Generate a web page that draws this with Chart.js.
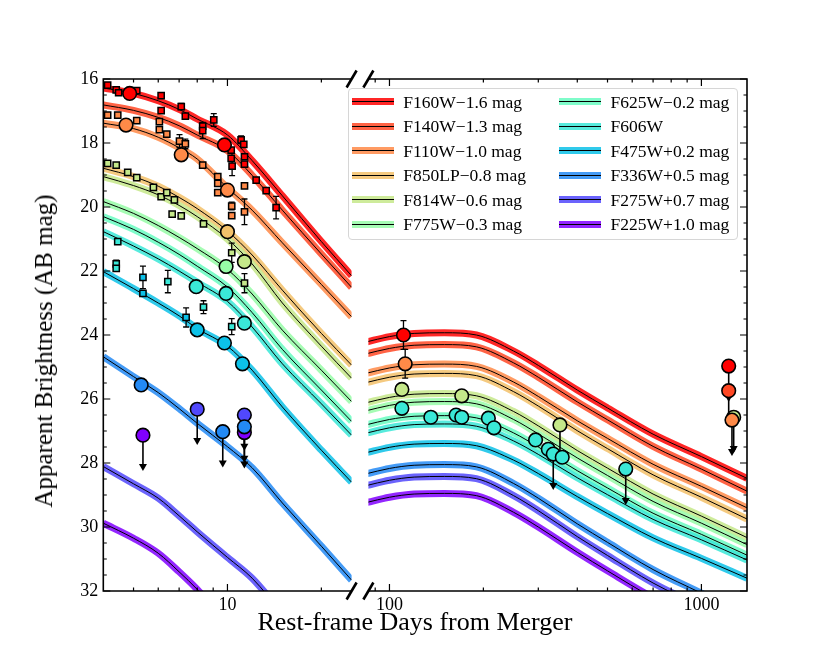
<!DOCTYPE html>
<html>
<head>
<meta charset="utf-8">
<script src="https://cdn.jsdelivr.net/npm/chart.js@4.4.1/dist/chart.umd.min.js"></script>
<style>
  body { margin: 0; background: #fff; }
  #wrap { position: relative; width: 830px; height: 664px; font-family: "Liberation Serif", "DejaVu Serif", serif; color: #000; }
  #cl { position: absolute; left: 0; top: 0; }
  #cr { position: absolute; left: 360px; top: 0; }
  #ylab { position: absolute; left: 44px; top: 351px; transform: translate(-50%, -50%) rotate(-90deg);
          font-size: 25px; line-height: 26px; white-space: nowrap; }
  #xlab { position: absolute; left: 0; width: 830px; top: 609px; text-align: center; font-size: 26px; line-height: 26px; }
  #legend { position: absolute; left: 348px; top: 88px; width: 390px; height: 152px; box-sizing: border-box;
            border: 1px solid #d6d6d6; border-radius: 4px; background: rgba(255,255,255,0.8); }
  .item { position: absolute; height: 20px; width: 180px; font-size: 17.5px; line-height: 20px; white-space: nowrap; }
  .sw { position: absolute; left: 0; top: 6.5px; width: 42px; height: 7px; }
  .sw i { position: absolute; left: 0; right: 0; top: 3px; height: 1px; background: #000; }
  .item span { position: absolute; left: 51.6px; top: 0; }
</style>
</head>
<body>
<div id="wrap">
  <canvas id="cl" width="360" height="664"></canvas>
  <canvas id="cr" width="470" height="664"></canvas>
  <div id="ylab">Apparent Brightness (AB mag)</div>
  <div id="xlab">Rest-frame Days from Merger</div>
  <div id="legend"></div>
</div>
<script>
// filters, legend order (red -> violet)
const bandLabels = ['F160W−1.6 mag', 'F140W−1.3 mag', 'F110W−1.0 mag', 'F850LP−0.8 mag', 'F814W−0.6 mag', 'F775W−0.3 mag',
                    'F625W−0.2 mag', 'F606W', 'F475W+0.2 mag', 'F336W+0.5 mag', 'F275W+0.7 mag', 'F225W+1.0 mag'];
const bandColors = ['255,0,0', '255,72,36', '255,138,72', '243,193,106', '197,232,138', '151,252,167',
                    '104,252,193', '58,232,215', '12,193,232', '35,138,245', '81,72,252', '128,0,255'];

// tick values
const yMajor = [16, 18, 20, 22, 24, 26, 28, 30, 32];
const leftMajor = [10];
const leftMinor = [5, 6, 7, 8, 9, 20];
const rightMajor = [100, 1000];
const rightMinor = [90, 200, 300, 400, 500, 600, 700, 800, 900];

// model curves, early (kilonova) panel
const leftDays = [4, 5, 6, 7, 8, 10, 12, 15, 20, 25];
const lF160 = [16.28, 16.45, 16.68, 16.95, 17.25, 17.75, 18.55, 19.65, 21.08, 22.15];
const lF140 = [16.81, 16.98, 17.2, 17.46, 17.75, 18.24, 19.01, 20.1, 21.47, 22.51];
const lF110 = [17.38, 17.55, 17.82, 18.15, 18.5, 19.4, 20.1, 21.12, 22.42, 23.43];
const lF850 = [18.79, 19.05, 19.35, 19.7, 20.05, 20.75, 21.5, 22.6, 23.95, 24.94];
const lF814 = [19.05, 19.33, 19.62, 19.95, 20.3, 21.0, 21.78, 23.0, 24.35, 25.35];
const lF775 = [19.83, 20.2, 20.58, 20.95, 21.3, 21.95, 22.72, 23.85, 25.1, 26.08];
const lF625 = [20.3, 20.7, 21.1, 21.48, 21.85, 22.5, 23.3, 24.45, 25.72, 26.7];
const lF606 = [20.77, 21.22, 21.62, 22.0, 22.35, 22.95, 23.75, 24.9, 26.15, 27.13];
const lF475 = [22.02, 22.55, 23.0, 23.4, 23.8, 24.35, 25.1, 26.25, 27.6, 28.6];
const lF336 = [24.68, 25.3, 25.8, 26.3, 26.76, 27.49, 28.15, 29.25, 30.6, 31.66];
const lF275 = [28.11, 28.65, 29.1, 29.65, 30.15, 30.95, 31.6, 32.7, null, null];
const lF225 = [29.88, 30.35, 30.82, 31.4, 31.95, 33.0, null, null, null, null];

// model curves, late (afterglow) panel
const rightDays = [84, 100, 120, 150, 190, 250, 300, 400, 500, 700, 1000, 1400];
const rF160 = [24.22, 24.05, 23.95, 23.93, 24.0, 24.5, 24.95, 25.72, 26.28, 27.1, 27.8, 28.48];
const rF140 = [24.59, 24.42, 24.32, 24.3, 24.37, 24.87, 25.32, 26.09, 26.65, 27.48, 28.19, 28.88];
const rF110 = [25.2, 25.03, 24.93, 24.91, 24.98, 25.47, 25.92, 26.68, 27.23, 28.04, 28.73, 29.4];
const rF850 = [25.49, 25.32, 25.22, 25.2, 25.27, 25.77, 26.22, 26.99, 27.55, 28.37, 29.07, 29.75];
const rF814 = [26.12, 25.95, 25.85, 25.83, 25.9, 26.39, 26.84, 27.61, 28.16, 28.97, 29.66, 30.33];
const rF775 = [26.37, 26.2, 26.1, 26.08, 26.15, 26.64, 27.09, 27.84, 28.39, 29.2, 29.88, 30.55];
const rF625 = [26.81, 26.64, 26.54, 26.52, 26.59, 27.06, 27.5, 28.24, 28.78, 29.57, 30.23, 30.88];
const rF606 = [27.07, 26.9, 26.8, 26.78, 26.85, 27.31, 27.73, 28.46, 28.99, 29.76, 30.4, 31.03];
const rF475 = [27.68, 27.51, 27.41, 27.39, 27.46, 27.91, 28.33, 29.05, 29.58, 30.34, 30.98, 31.6];
const rF336 = [28.34, 28.17, 28.07, 28.05, 28.12, 28.64, 29.1, 29.9, 30.48, 31.33, 32.07, 32.78];
const rF275 = [28.71, 28.54, 28.44, 28.42, 28.49, 29.02, 29.49, 30.3, 30.89, 31.75, 32.5, 33.23];
const rF225 = [29.24, 29.07, 28.97, 28.95, 29.02, 29.54, 30.0, 30.79, 31.37, 32.21, 32.93, 33.63];

// squares: [day, mag, error]
const sqL160 = [[4.13, 16.19, 0], [4.40, 16.34, 0], [4.48, 16.43, 0], [5.12, 16.36, 0], [6.13, 16.52, 0], [6.13, 16.99, 0],
                [7.11, 16.86, 0.1], [7.33, 17.16, 0], [8.33, 17.47, 0], [8.33, 17.61, 0.25], [9.04, 17.28, 0.2],
                [10.28, 18.22, 0], [10.28, 18.48, 0], [10.35, 18.72, 0.3], [11.06, 17.9, 0.12], [11.28, 18.04, 0],
                [11.34, 18.43, 0], [11.34, 18.66, 0], [12.36, 19.16, 0], [13.31, 19.49, 0], [14.32, 20.02, 0.35]];
const sqL110 = [[4.13, 17.13, 0], [4.45, 17.13, 0], [5.12, 17.3, 0], [6.05, 17.33, 0], [6.05, 17.58, 0], [6.39, 17.72, 0],
                [7.02, 17.94, 0.2], [7.33, 18.03, 0.15], [8.33, 18.69, 0], [9.31, 19.05, 0], [9.31, 19.26, 0],
                [9.31, 19.55, 0], [10.32, 19.97, 0.12], [10.32, 20.27, 0], [11.34, 19.34, 0], [11.34, 20.15, 0.4]];
const sqL814 = [[4.13, 18.64, 0], [4.40, 18.69, 0], [4.79, 18.92, 0], [5.12, 19.08, 0], [5.79, 19.39, 0], [6.13, 19.68, 0],
                [6.39, 19.55, 0], [6.76, 19.78, 0], [6.65, 20.22, 0], [7.11, 20.28, 0], [8.38, 20.53, 0],
                [10.32, 21.43, 0.3], [11.34, 22.38, 0.3]];
const sqL606 = [[4.45, 21.08, 0], [4.40, 21.78, 0.12], [4.40, 21.92, 0], [6.44, 22.33, 0.35], [8.38, 23.13, 0.2], [10.32, 23.74, 0.25]];
const sqL475 = [[5.36, 22.2, 0.35], [5.36, 22.7, 0], [7.37, 23.45, 0.3]];

// circles: [day, mag]
const cL160 = [[4.86, 16.45], [9.78, 18.06]];
const cL110 = [[4.73, 17.44], [7.11, 18.37], [10.0, 19.47]];
const cL850 = [[10.0, 20.77]];
const cL814 = [[11.33, 21.71]];
const cL775 = [[9.9, 21.86]];
const cL606 = [[7.94, 22.49], [9.9, 22.7], [11.33, 23.63]];
const cL475 = [[8.0, 23.84], [9.78, 24.25], [11.17, 24.9]];
const cL336 = [[5.29, 25.56], [9.66, 27.02], [11.33, 26.87]];
const cL275 = [[8.0, 26.32], [11.33, 26.5]];
const cL225 = [[5.36, 27.13], [11.33, 27.05]];
const limL = [[9.66, 27.02], [11.33, 26.87], [8.0, 26.32], [11.33, 26.5], [5.36, 27.13], [11.33, 27.05]];

const cR160 = [[110.9, 24.0], [1223, 24.97]];
const cR140 = [[1223, 25.74]];
const cR110 = [[112.3, 24.9], [1253, 26.66]];
const cR814 = [[109.6, 25.7], [170.5, 25.9], [352, 26.81], [1269, 26.57]];
const cR606 = [[109.6, 26.29], [135.7, 26.57], [163.5, 26.5], [170.5, 26.57], [207.5, 26.6], [216.3, 26.9],
               [294, 27.28], [323, 27.57], [335, 27.72], [358, 27.82], [572, 28.19]];
const limR = [[352, 26.81], [335, 27.72], [572, 28.19], [1223, 24.97], [1223, 25.74], [1269, 26.57], [1253, 26.66]];
const errR = [[110.9, 24.0, 0.45], [112.3, 24.9, 0.45]];

const SERIF = '"Liberation Serif", "DejaVu Serif", serif';
const rgba = (k, a) => `rgba(${bandColors[k]},${a})`;
const pts = arr => arr.map(p => ({ x: p[0], y: p[1] }));

function curveSets(days, models) {
  const out = [];
  models.forEach((m, k) => {
    const data = days.map((d, i) => ({ x: d, y: m[i] }));
    const common = { data, pointRadius: 0, fill: false, clip: 0, cubicInterpolationMode: 'monotone', borderCapStyle: 'butt' };
    out.push({ ...common, borderColor: rgba(k, 0.85), borderWidth: 7, order: 100 - 2 * k });
    out.push({ ...common, borderColor: '#000', borderWidth: 1, order: 99 - 2 * k });
  });
  return out;
}
function dots(arr, k, shape, order) {
  const sq = shape === 'rect';
  return { data: pts(arr), showLine: false, pointStyle: shape, pointRadius: sq ? 4.4 : 6.8,
           pointBackgroundColor: rgba(k, 1), pointBorderColor: '#000', pointBorderWidth: sq ? 1.5 : 1.6, order };
}

// spines, inward ticks, break marks
const frame = {
  id: 'frame',
  afterDraw(chart, args, o) {
    const { ctx, chartArea: a } = chart;
    const x = chart.scales.x, y = chart.scales.y;
    ctx.save();
    ctx.strokeStyle = '#000';
    ctx.lineWidth = 1.2;
    ctx.beginPath();
    const xt = (vals, len) => vals.forEach(v => {
      const p = x.getPixelForValue(v);
      ctx.moveTo(p, a.bottom); ctx.lineTo(p, a.bottom - len);
      ctx.moveTo(p, a.top); ctx.lineTo(p, a.top + len);
    });
    xt(o.major, 7);
    xt(o.minor, 3.5);
    for (let m = 16; m <= 32; m += 0.5) {
      const p = y.getPixelForValue(m);
      const len = yMajor.includes(m) ? 7 : 3.5;
      if (o.left) { ctx.moveTo(a.left, p); ctx.lineTo(a.left + len, p); }
      if (o.right) { ctx.moveTo(a.right, p); ctx.lineTo(a.right - len, p); }
    }
    ctx.stroke();
    ctx.lineWidth = 1.6;
    ctx.beginPath();
    ctx.moveTo(a.left, a.top); ctx.lineTo(a.right, a.top);
    ctx.moveTo(a.left, a.bottom); ctx.lineTo(a.right, a.bottom);
    if (o.left) { ctx.moveTo(a.left, a.top - 0.8); ctx.lineTo(a.left, a.bottom + 0.8); }
    if (o.right) { ctx.moveTo(a.right, a.top - 0.8); ctx.lineTo(a.right, a.bottom + 0.8); }
    ctx.stroke();
    const bx = o.left ? a.right : a.left;
    ctx.lineWidth = 2.6;
    [a.top, a.bottom].forEach(yy => {
      ctx.beginPath(); ctx.moveTo(bx - 5, yy + 8.5); ctx.lineTo(bx + 5, yy - 8.5); ctx.stroke();
    });
    ctx.restore();
  }
};

// error bars and upper-limit arrows, drawn under the markers
const bars = {
  id: 'bars',
  beforeDatasetDraw(chart, args, o) {
    const ds = chart.data.datasets[args.index];
    if (!ds.errLayer) return;
    const { ctx } = chart;
    const x = chart.scales.x, y = chart.scales.y;
    ctx.save();
    ctx.strokeStyle = '#000';
    ctx.fillStyle = '#000';
    ctx.lineWidth = 1.3;
    o.errs.forEach(([d, m, e]) => {
      const px = x.getPixelForValue(d), y1 = y.getPixelForValue(m - e), y2 = y.getPixelForValue(m + e);
      ctx.beginPath();
      ctx.moveTo(px, y1); ctx.lineTo(px, y2);
      ctx.moveTo(px - 3, y1); ctx.lineTo(px + 3, y1);
      ctx.moveTo(px - 3, y2); ctx.lineTo(px + 3, y2);
      ctx.stroke();
    });
    ctx.lineWidth = 1.6;
    o.lims.forEach(([d, m]) => {
      const px = x.getPixelForValue(d), y1 = y.getPixelForValue(m), y2 = y.getPixelForValue(m + 1.12);
      ctx.beginPath(); ctx.moveTo(px, y1); ctx.lineTo(px, y2 - 5); ctx.stroke();
      ctx.beginPath(); ctx.moveTo(px - 4, y2 - 7); ctx.lineTo(px + 4, y2 - 7); ctx.lineTo(px, y2); ctx.closePath(); ctx.fill();
    });
    ctx.restore();
  }
};

function makeChart(id, cfg) {
  const tickFont = { family: SERIF, size: 18 };
  return new Chart(document.getElementById(id), {
    type: 'line',
    data: { datasets: cfg.datasets },
    plugins: [frame, bars],
    options: {
      responsive: false, animation: false, events: [],
      layout: { padding: cfg.padding },
      plugins: { legend: { display: false }, tooltip: { enabled: false }, frame: cfg.frame, bars: cfg.bars },
      scales: {
        x: {
          type: 'logarithmic', min: cfg.min, max: cfg.max, position: 'bottom',
          grid: { display: false, drawTicks: false }, border: { display: false },
          afterBuildTicks: s => { s.ticks = cfg.frame.major.map(v => ({ value: v })); },
          afterFit: s => { s.height = 73; },
          ticks: { autoSkip: false, maxRotation: 0, padding: 3, font: tickFont, color: '#000', callback: v => String(v) }
        },
        y: {
          type: 'linear', reverse: true, min: 16, max: 32, position: 'left', display: cfg.showY,
          grid: { display: false, drawTicks: false }, border: { display: false },
          afterFit: s => { s.width = cfg.showY ? 103.3 : 0; },
          ticks: { stepSize: 2, padding: 5, font: tickFont, color: '#000' }
        }
      }
    }
  });
}

const errLayer = { data: [], errLayer: true, order: 1, pointRadius: 0 };
const errsL = [...sqL160, ...sqL110, ...sqL814, ...sqL606, ...sqL475].filter(p => p[2] > 0);

makeChart('cl', {
  min: 4, max: 25, showY: true,
  padding: { left: 0, right: 8.3, top: 79, bottom: 0 },
  frame: { left: true, right: false, major: leftMajor, minor: leftMinor },
  bars: { errs: errsL, lims: limL },
  datasets: [
    ...curveSets(leftDays, [lF160, lF140, lF110, lF850, lF814, lF775, lF625, lF606, lF475, lF336, lF275, lF225]),
    errLayer,
    dots(sqL160, 0, 'rect', 0.8), dots(sqL110, 2, 'rect', 0.8), dots(sqL814, 4, 'rect', 0.8),
    dots(sqL606, 7, 'rect', 0.8), dots(sqL475, 8, 'rect', 0.8),
    dots(cL160, 0, 'circle', 0.4), dots(cL110, 2, 'circle', 0.4), dots(cL850, 3, 'circle', 0.4),
    dots(cL814, 4, 'circle', 0.4), dots(cL775, 5, 'circle', 0.4), dots(cL606, 7, 'circle', 0.4),
    dots(cL475, 8, 'circle', 0.4), dots(cL225, 11, 'circle', 0.3), dots(cL275, 10, 'circle', 0.2),
    dots(cL336, 9, 'circle', 0.1)
  ]
});

makeChart('cr', {
  min: 85.6, max: 1400, showY: false,
  padding: { left: 8.3, right: 83, top: 79, bottom: 0 },
  frame: { left: false, right: true, major: rightMajor, minor: rightMinor },
  bars: { errs: errR, lims: limR },
  datasets: [
    ...curveSets(rightDays, [rF160, rF140, rF110, rF850, rF814, rF775, rF625, rF606, rF475, rF336, rF275, rF225]),
    errLayer,
    dots(cR606, 7, 'circle', 0.5), dots(cR814, 4, 'circle', 0.4), dots(cR110, 2, 'circle', 0.3),
    dots(cR140, 1, 'circle', 0.2), dots(cR160, 0, 'circle', 0.1)
  ]
});

// legend
const leg = document.getElementById('legend');
bandLabels.forEach((lab, k) => {
  const col = Math.floor(k / 6), row = k % 6;
  const it = document.createElement('div');
  it.className = 'item';
  it.style.left = (col ? 210 : 2.7) + 'px';
  it.style.top = (2.7 + row * 24.52) + 'px';
  it.innerHTML = `<div class="sw" style="background:${rgba(k, 0.85)}"><i></i></div><span>${lab}</span>`;
  leg.appendChild(it);
});
</script>
</body>
</html>
